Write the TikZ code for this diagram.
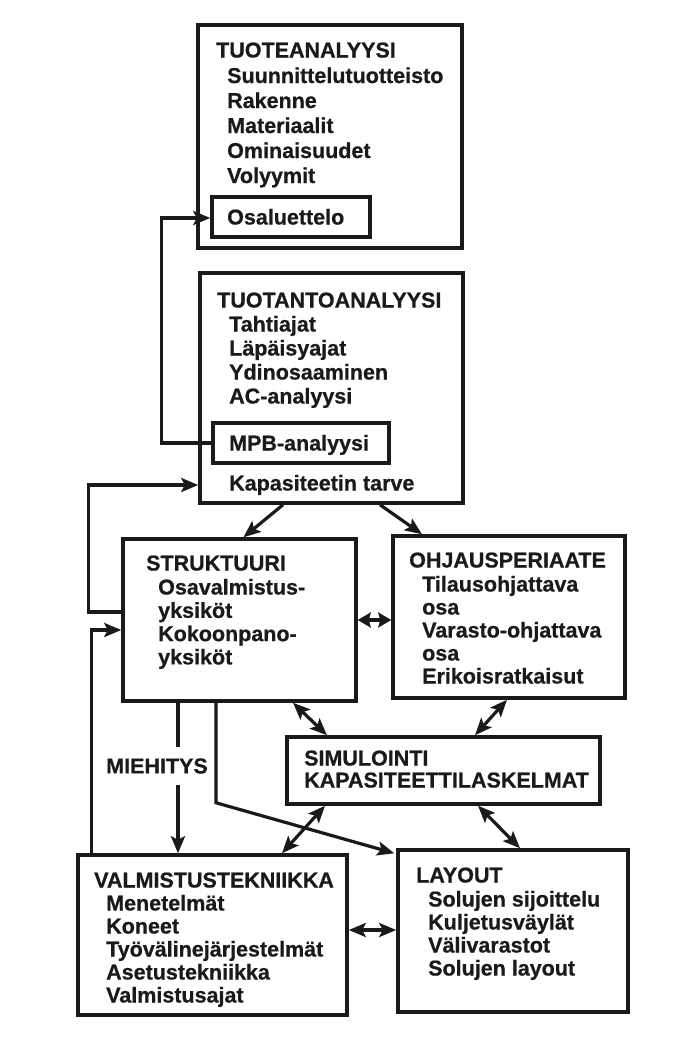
\documentclass[tikz,border=0pt]{standalone}
\usepackage{fontspec}
\setmainfont{Liberation Sans}[BoldFeatures={FakeBold=0.7}]
\usetikzlibrary{arrows.meta,calc}
\definecolor{ink}{HTML}{1A1A1A}
\begin{document}
\begin{tikzpicture}[x=1pt,y=-1pt,
  box/.style={draw=ink,line width=3.5pt,fill=white,inner sep=0pt},
  conn/.style={draw=ink,line width=3.2pt},
  shortdbl/.style={{Stealth[length=13pt,width=15pt,inset=2pt]}-{Stealth[length=13pt,width=15pt,inset=2pt]}},
  >={Stealth[length=17pt,width=14pt,inset=3.5pt]},
  txt/.style={anchor=base west,inner sep=0pt,font=\fontsize{21.5}{25}\selectfont\bfseries,text=ink},
  lbl/.style={inner xsep=0pt,inner ysep=11.5pt,font=\fontsize{21.5}{25}\selectfont\bfseries,text=ink}]
\useasboundingbox (0,0) rectangle (675,1052);
\fill[white] (0,0) rectangle (675,1052);

% boxes
\node[box,minimum width=264pt,minimum height=223pt] (tuote) at (330,136.5) {};
\node[box,minimum width=158pt,minimum height=40pt] (osal) at (291,217) {};
\node[box,minimum width=263pt,minimum height=230pt] (tuotanto) at (331.5,388) {};
\node[box,minimum width=176pt,minimum height=40pt] (mpb) at (301,443) {};
\node[box,minimum width=233pt,minimum height=162pt] (strukt) at (239.5,620) {};
\node[box,minimum width=232pt,minimum height=162pt] (ohjaus) at (509,617) {};
\node[box,minimum width=313pt,minimum height=67pt] (simu) at (443.5,770.5) {};
\node[box,minimum width=269pt,minimum height=160pt] (valm) at (212.5,935) {};
\node[box,minimum width=230pt,minimum height=162pt] (layout) at (513,931) {};

% texts
\node[txt] (tuote-h) at (216,57.5) {TUOTEANALYYSI};
\foreach \t [count=\i from 0] in {Suunnittelutuotteisto,Rakenne,Materiaalit,Ominaisuudet,Volyymit}
  \node[txt] (tuote-\i) at (227,{83+25*\i}) {\t};
\node[txt] (osal-t) at (227,224.5) {Osaluettelo};

\node[txt] (tuotanto-h) at (217,307.5) {TUOTANTOANALYYSI};
\foreach \t [count=\i from 0] in {Tahtiajat,Läpäisyajat,Ydinosaaminen,AC-analyysi}
  \node[txt] (tuotanto-\i) at (229,{331.5+24*\i}) {\t};
\node[txt] (mpb-t) at (229,450.5) {MPB-analyysi};
\node[txt] (kap-t) at (229,490.5) {Kapasiteetin tarve};

\node[txt] (strukt-h) at (146,570.5) {STRUKTUURI};
\foreach \t [count=\i from 0] in {Osavalmistus-,yksiköt,Kokoonpano-,yksiköt}
  \node[txt] (strukt-\i) at (158,{594.5+23.3*\i}) {\t};

\node[txt] (ohjaus-h) at (409,567.5) {OHJAUSPERIAATE};
\foreach \t [count=\i from 0] in {Tilausohjattava,osa,Varasto-ohjattava,osa,Erikoisratkaisut}
  \node[txt] (ohjaus-\i) at (422,{591.5+23*\i}) {\t};

\node[txt] (simu-1) at (304,765.5) {SIMULOINTI};
\node[txt] (simu-2) at (304,787.5) {KAPASITEETTILASKELMAT};

\node[txt] (valm-h) at (94,887.5) {VALMISTUSTEKNIIKKA};
\foreach \t [count=\i from 0] in {Menetelmät,Koneet,Työvälinejärjestelmät,Asetustekniikka,Valmistusajat}
  \node[txt] (valm-\i) at (106,{910.5+23*\i}) {\t};

\node[txt] (layout-h) at (416,882.5) {LAYOUT};
\foreach \t [count=\i from 0] in {Solujen sijoittelu,Kuljetusväylät,Välivarastot,Solujen layout}
  \node[txt] (layout-\i) at (428,{906.5+23*\i}) {\t};

\node[lbl] (miehitys) at (157,766) {MIEHITYS};

% connectors
\draw[conn,->] (mpb.west) -- ++(-50,0) |- ([yshift=-1pt]osal.west);
\draw[conn,->] ([yshift=8pt]strukt.west) -- ++(-33,0) |- ([yshift=-97pt]tuotanto.west);
\draw[conn,->] ([xshift=15pt]valm.north west) |- ([yshift=-10pt]strukt.west);
\draw[conn,->] ([xshift=-48.5pt]tuotanto.south) -- ([xshift=4pt]strukt.north);
\draw[conn,->] ([xshift=48.5pt]tuotanto.south) -- ([xshift=-87pt]ohjaus.north);
\draw[conn,shortdbl] (strukt.east) -- (strukt.east -| ohjaus.west);
\draw[conn,<->] ([xshift=53.5pt]strukt.south) -- ([xshift=-116.5pt]simu.north);
\draw[conn,<->] ([xshift=-2pt]ohjaus.south) -- ([xshift=31.5pt]simu.north);
\coordinate (mtop) at ([xshift=-61.5pt]strukt.south);
\draw[conn] (mtop) -- (mtop |- miehitys.north);
\draw[conn,->] (mtop |- miehitys.south) -- (mtop |- valm.north);
\draw[conn,->] ([xshift=-23.5pt]strukt.south) -- ++(0,100) -- ([yshift=-5pt,xshift=-2pt]layout.north west);
\draw[conn,<->] ([xshift=-118.5pt]simu.south) -- ([xshift=69.5pt]valm.north);
\draw[conn,<->] ([xshift=34.5pt]simu.south) -- ([xshift=7pt]layout.north);
\draw[conn,<->] ([yshift=5pt]valm.east) -- ([yshift=5pt]valm.east -| layout.west);
\end{tikzpicture}
\end{document}
